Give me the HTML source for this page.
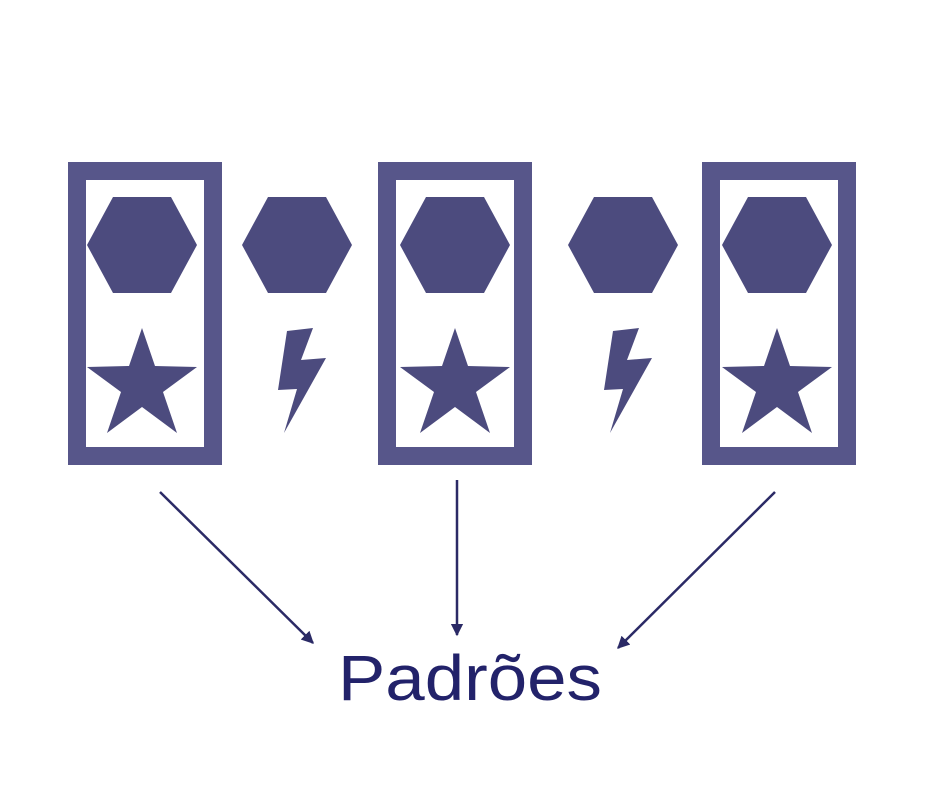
<!DOCTYPE html>
<html><head><meta charset="utf-8"><style>
html,body{margin:0;padding:0;background:#fff;}
svg{display:block}
</style></head><body>
<svg width="940" height="788" viewBox="0 0 940 788">
<defs>
<marker id="ah" viewBox="0 0 10 10" refX="9" refY="5" markerWidth="5" markerHeight="5" orient="auto"><path d="M0,0L10,5L0,10z" fill="#2b2a66"/></marker>
<polygon id="hex" points="-55,0 -29,-48 29,-48 55,0 29,48 -29,48" fill="#4c4b7e"/>
<polygon id="star" points="0,-57 13,-19 55,-18 21,7 35,48 0,22 -35,48 -21,7 -55,-18 -13,-19" fill="#4c4b7e"/>
<polygon id="bolt" points="287,331 313,328 301,360 326,358 284,433 297,389 278,390" fill="#4c4b7e"/>
</defs>
<g>
<rect x="77" y="171" width="136" height="285" fill="none" stroke="#57568a" stroke-width="18"/>
<use href="#hex" x="142" y="245"/><use href="#star" x="142" y="385"/>
</g>
<g>
<rect x="387" y="171" width="136" height="285" fill="none" stroke="#57568a" stroke-width="18"/>
<use href="#hex" x="455" y="245"/><use href="#star" x="455" y="385"/>
</g>
<g>
<rect x="711" y="171" width="136" height="285" fill="none" stroke="#57568a" stroke-width="18"/>
<use href="#hex" x="777" y="245"/><use href="#star" x="777" y="385"/>
</g>
<g>
<use href="#hex" x="297" y="245"/><use href="#bolt"/>
</g>
<g>
<use href="#hex" x="623" y="245"/><use href="#bolt" x="326"/>
</g>
<line x1="160" y1="492" x2="313" y2="643" stroke="#2b2a66" stroke-width="2.5" marker-end="url(#ah)"/>
<line x1="457" y1="480" x2="457" y2="635" stroke="#2b2a66" stroke-width="2.5" marker-end="url(#ah)"/>
<line x1="775" y1="492" x2="618" y2="648" stroke="#2b2a66" stroke-width="2.5" marker-end="url(#ah)"/>
<text x="338" y="700" textLength="264" lengthAdjust="spacingAndGlyphs" font-family="Liberation Sans, sans-serif" font-size="64" fill="#22226a">Padrões</text>
</svg>
</body></html>
